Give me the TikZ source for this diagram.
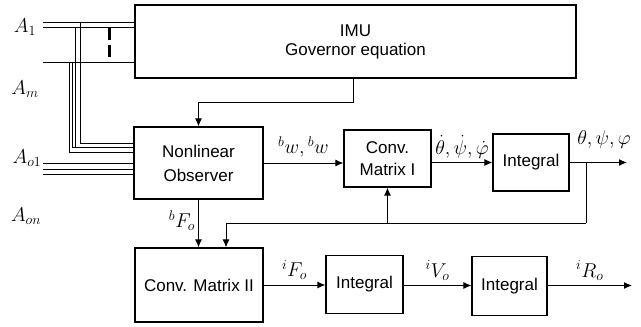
\RequirePackage{fix-cm}
\documentclass[tikz,border=0pt]{standalone}
\usepackage{amsmath}
\usepackage{fontspec}
\setmainfont{Liberation Sans}
\usepackage{tikz}
\usetikzlibrary{arrows.meta,positioning,calc}

\begin{document}
\begin{tikzpicture}[x=1pt,y=-1pt,
  every node/.style={font=\fontsize{17}{22}\selectfont},
  lbl/.style={font=\fontsize{20}{24}\selectfont,inner sep=1pt},
  blk/.style={draw,line width=1.2pt,rectangle,align=center,inner sep=0pt},
  arr/.style={line width=1pt,-{Latex[length=8pt,width=7pt]}},
  wire/.style={line width=1pt}]
\useasboundingbox (0,0) rectangle (641,327);
\node[blk,minimum width=441,minimum height=73] (imu) at (355.5,41.5) {IMU\\[-3pt]Governor equation};
\node[blk,minimum width=129,minimum height=72] (obs) at (198.5,163) {Nonlinear\\[2pt]Observer};
\node[blk,minimum width=87,minimum height=57] (cm1) at (387.5,158.5) {Conv.\\Matrix I};
\node[blk,minimum width=76,minimum height=57] (int1) at (531,162.5) {Integral};
\node[blk,minimum width=128,minimum height=74] (cm2) at (199,285) {Conv. Matrix II};
\node[blk,minimum width=77,minimum height=58] (int2) at (364.5,284.5) {Integral};
\node[blk,minimum width=75,minimum height=59] (int3) at (509.5,286) {Integral};
\coordinate (k1) at (353,102);
\coordinate (fb) at (586,223);
\coordinate (out1) at (627,162.5);
\coordinate (out2) at (632,285.5);
% sensor inputs
\foreach \y in {22,27,62} \draw[wire] (43,\y) -- (imu.west |- 0,\y);
\foreach \y in {163.5,169,174.5} \draw[wire] (43,\y) -- (obs.west |- 0,\y);
\foreach \x/\y/\z in {80/22/143,75.5/27/147,72.5/62/147,69/62/152}
  \draw[wire] (\x,\y) |- (obs.west |- 0,\z);
\draw[line width=2.6pt,dash pattern=on 12pt off 5pt] (109.5,28) -- (109.5,58);
\node[lbl] (la1) at (25,27) {$A_1$};
\node[lbl] (lam) at (25,89) {$A_m$};
\node[lbl] (lao1) at (27,158) {$A_{o1}$};
\node[lbl] (laon) at (26,216) {$A_{on}$};
% signal flow
\draw[arr] (k1 |- imu.south) -- (k1) -| (obs.north);
\draw[arr] (obs.east) -- (obs.east -| cm1.west) node[lbl,midway,above=4pt] {$^b w,{}^b w$};
\draw[arr] (cm1.east |- int1.west) -- (int1.west) node[lbl,midway,above=3pt] {$\dot\theta, \dot\psi, \dot\varphi$};
\draw[arr] (int1.east) -- (out1);
\node[lbl] (lang) at (604,139) {$\theta, \psi, \varphi$};
\draw[wire] (fb |- int1.east) -- (fb);
\draw[arr] (fb) -| ($(cm2.north)+(27,0)$);
\draw[arr] (cm1.south |- fb) -- (cm1.south);
\draw[arr] (obs.south) -- (obs.south |- cm2.north);
\node[lbl] (lbf) at (182,221) {$^bF_o$};
\draw[arr] (cm2.east |- 0,285) -- (int2.west |- 0,285) node[lbl,midway,above=4pt] {$^iF_o$};
\draw[arr] (int2.east |- 0,285.5) -- (int3.west |- 0,285.5) node[lbl,midway,above=4pt] {$^iV_o$};
\draw[arr] (int3.east |- out2) -- (out2) node[lbl,midway,above=4pt] {$^iR_o$};
\end{tikzpicture}
\end{document}
